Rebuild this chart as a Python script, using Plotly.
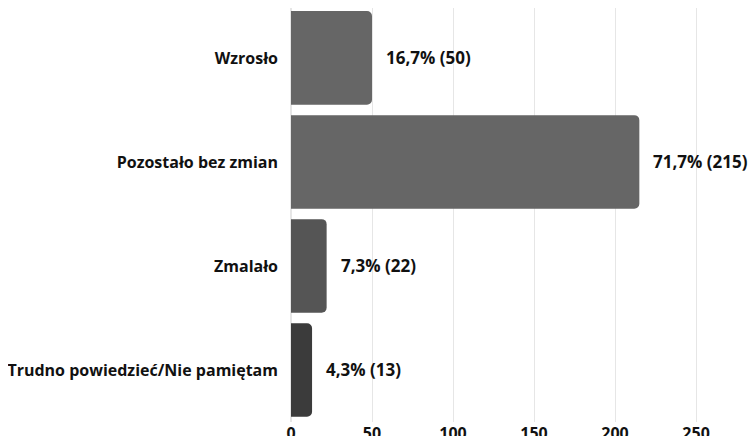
import plotly.graph_objects as go

categories = ["Wzrosło", "Pozostało bez zmian", "Zmalało", "Trudno powiedzieć/Nie pamiętam"]
counts = [50, 215, 22, 13]
percents = ["16,7%", "71,7%", "7,3%", "4,3%"]
bar_colors = ["#666666", "#666666", "#555555", "#3b3b3b"]
x_ticks = [0, 50, 100, 150, 200, 250]

font_family = "Open Sans"

fig = go.Figure()
fig.add_trace(go.Bar(
    x=counts,
    y=categories,
    orientation="h",
    marker=dict(color=bar_colors, line=dict(width=0)),
    width=0.9,
    hoverinfo="skip",
))

for cat, c, p in zip(categories, counts, percents):
    fig.add_annotation(
        x=c, y=cat, text=f"<b>{p} ({c})</b>",
        xanchor="left", yanchor="middle", xshift=12,
        showarrow=False,
        font=dict(family=font_family, size=17, color="#111111"),
    )

fig.update_layout(
    width=756, height=436,
    margin=dict(l=283, r=8, t=0, b=22),
    plot_bgcolor="white", paper_bgcolor="white",
    barcornerradius=5,
    showlegend=False,
    font=dict(family=font_family, size=16, color="#111111"),
    xaxis=dict(
        range=[0, 287],
        tickvals=x_ticks,
        ticktext=[f"<b>{t}</b>" for t in x_ticks],
        showgrid=True, gridcolor="#e6e6e6", gridwidth=1,
        zeroline=True, zerolinecolor="#e6e6e6",
        showline=False,
        ticks="",
        automargin=False,
    ),
    yaxis=dict(
        categoryorder="array",
        categoryarray=categories,
        range=[3.5, -0.48],
        tickvals=categories,
        ticktext=[f"<b>{c}</b>" for c in categories],
        showgrid=False, zeroline=False, showline=False,
        ticks="",
        ticklabelstandoff=12,
        automargin=False,
    ),
)

fig.write_html("out.html")
